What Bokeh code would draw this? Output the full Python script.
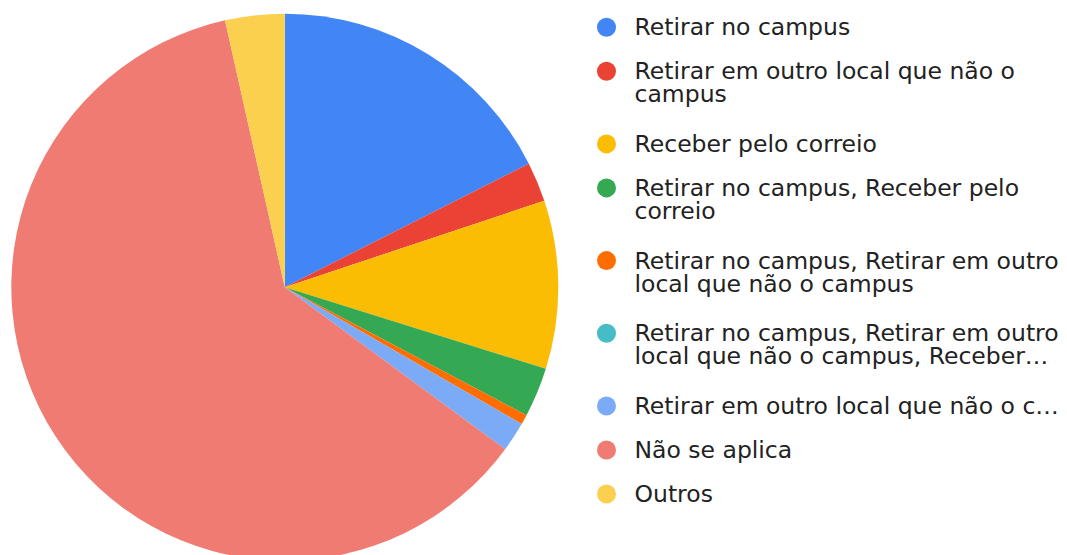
import math
from bokeh.plotting import figure
from bokeh.models import ColumnDataSource, Range1d
from bokeh.core.properties import value
from bokeh.embed import file_html
from bokeh.resources import INLINE

# ---- data ----
categories = [
    "Retirar no campus",
    "Retirar em outro local que não o campus",
    "Receber pelo correio",
    "Retirar no campus, Receber pelo correio",
    "Retirar no campus, Retirar em outro local que não o campus",
    "Retirar no campus, Retirar em outro local que não o campus, Receber pelo correio",
    "Retirar em outro local que não o campus, Receber pelo correio",
    "Não se aplica",
    "Outros",
]
counts = [30, 4, 17, 5, 1, 0, 3, 105, 6]
colors = ["#4285F4", "#EA4335", "#FBBC04", "#34A853", "#FF6D01",
          "#46BDC6", "#7BAAF7", "#F07B72", "#FCD04F"]
legend_lines = [
    ["Retirar no campus"],
    ["Retirar em outro local que não o", "campus"],
    ["Receber pelo correio"],
    ["Retirar no campus, Receber pelo", "correio"],
    ["Retirar no campus, Retirar em outro", "local que não o campus"],
    ["Retirar no campus, Retirar em outro", "local que não o campus, Receber…"],
    ["Retirar em outro local que não o c…"],
    ["Não se aplica"],
    ["Outros"],
]

# ---- layout (screen pixels) ----
W, H = 1067, 555


def Y(yw):
    """screen y (pixels, downwards) -> data y"""
    return H - yw


def X(xw):
    return xw


cx, cy, R = 284.3, 286.7, 273.5

p = figure(width=W, height=H, output_backend="svg", toolbar_location=None,
           x_range=Range1d(0, W), y_range=Range1d(0, H),
           min_border=0, outline_line_color=None, background_fill_color="white",
           border_fill_color="white")
p.xaxis.visible = False
p.yaxis.visible = False
p.grid.visible = False

total = float(sum(counts))
starts, ends, wcols, xs, ys = [], [], [], [], []
cum = 0.0
for c, col in zip(counts, colors):
    a0 = math.pi / 2 - 2 * math.pi * cum / total
    cum += c
    a1 = math.pi / 2 - 2 * math.pi * cum / total
    if c > 0:
        starts.append(a0)
        ends.append(a1)
        wcols.append(col)
        xs.append(X(cx))
        ys.append(Y(cy))

src = ColumnDataSource(dict(x=xs, y=ys, start=starts, end=ends, color=wcols))
p.wedge(x="x", y="y", radius=R, start_angle="start", end_angle="end",
        direction="clock", fill_color="color", line_color=None, source=src)

# ---- legend ----
mx, tx = 606, 634
y0, step, extra, lh = 26.7, 44.0, 28.7, 23.0
mk_x, mk_y, mk_c = [], [], []
t_x, t_y, t_t = [], [], []
y = y0
for lines, col in zip(legend_lines, colors):
    mk_x.append(X(mx))
    mk_y.append(Y(y))
    mk_c.append(col)
    for j, ln in enumerate(lines):
        t_x.append(X(tx))
        t_y.append(Y(y + j * lh))
        t_t.append(ln)
    y += step + extra * (len(lines) - 1)

p.scatter(x=mk_x, y=mk_y, size=19, marker="circle", fill_color=mk_c,
          line_color=None)
p.text(x=t_x, y=t_y, text=t_t, text_font=value("DejaVu Sans"),
       text_font_size="23.5px", text_color="#222222", text_baseline="middle",
       text_align="left")

open("out.html", "w").write(file_html(p, INLINE))
